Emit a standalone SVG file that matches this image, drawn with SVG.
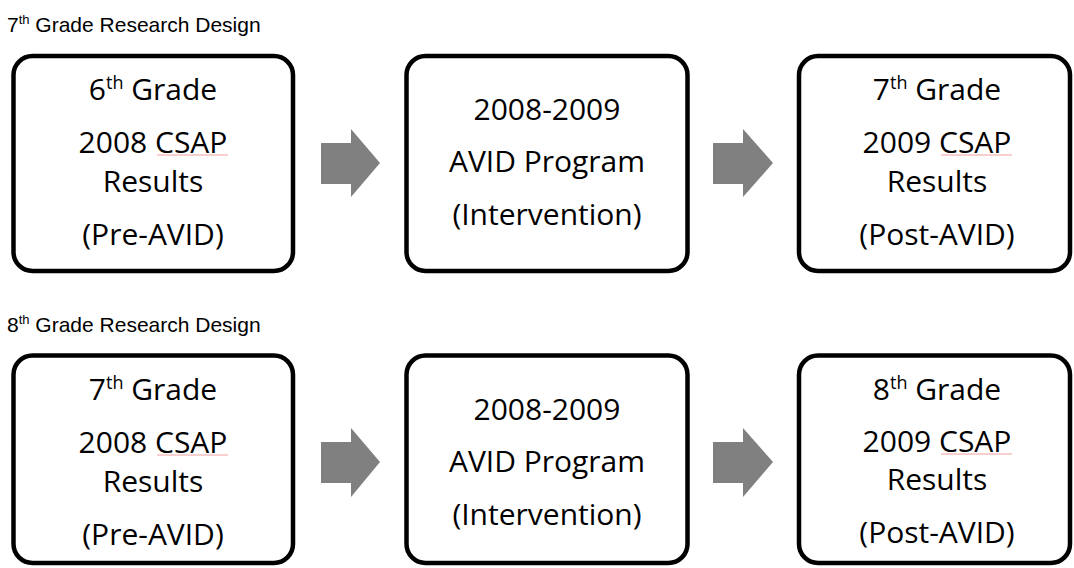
<svg xmlns="http://www.w3.org/2000/svg" width="1074" height="568" viewBox="0 0 1074 568">
<style>
.title{font-family:"Liberation Sans",Arial,sans-serif;font-size:21px;fill:#000}
.tsup{font-size:13px}
.box{fill:#fff;stroke:#000;stroke-width:4.5}
.t{font-family:"Open Sans","Noto Sans",sans-serif;font-size:30px;fill:#000;text-anchor:middle}
.sup{font-size:18px}
.arrow{fill:#808080}
.sq{stroke:#f0a0a0;stroke-width:1}
</style>
<rect width="1074" height="568" fill="#fff"/>
<text class="title" x="7" y="32">7<tspan class="tsup" dy="-8">th</tspan><tspan dy="8"> Grade Research Design</tspan></text>
<text class="title" x="7" y="332">8<tspan class="tsup" dy="-8">th</tspan><tspan dy="8"> Grade Research Design</tspan></text>

<g id="n1">
<rect class="box" x="13.5" y="56" width="279.5" height="215" rx="19"/>
<text class="t" x="153" y="100">6<tspan class="sup" dy="-11">th</tspan><tspan dy="11"> Grade</tspan></text>
<text class="t" x="153" y="153">2008 CSAP</text>
<line class="sq" x1="157" y1="155" x2="228" y2="155"/>
<text class="t" x="153" y="192">Results</text>
<text class="t" x="153" y="245">(Pre-AVID)</text>
</g>
<g id="n2">
<rect class="box" x="406.5" y="56" width="281" height="215" rx="19"/>
<text class="t" x="547" y="120">2008-2009</text>
<text class="t" x="547" y="172">AVID Program</text>
<text class="t" x="547" y="225">(Intervention)</text>
</g>
<g id="n3">
<rect class="box" x="799" y="56" width="271" height="215" rx="19"/>
<text class="t" x="937" y="100">7<tspan class="sup" dy="-11">th</tspan><tspan dy="11"> Grade</tspan></text>
<text class="t" x="937" y="153">2009 CSAP</text>
<line class="sq" x1="941" y1="155" x2="1012" y2="155"/>
<text class="t" x="937" y="192">Results</text>
<text class="t" x="937" y="245">(Post-AVID)</text>
</g>

<g id="n4">
<rect class="box" x="13.5" y="355.5" width="279.5" height="207.5" rx="19"/>
<text class="t" x="153" y="400">7<tspan class="sup" dy="-11">th</tspan><tspan dy="11"> Grade</tspan></text>
<text class="t" x="153" y="453">2008 CSAP</text>
<line class="sq" x1="157" y1="455" x2="228" y2="455"/>
<text class="t" x="153" y="492">Results</text>
<text class="t" x="153" y="545">(Pre-AVID)</text>
</g>
<g id="n5">
<rect class="box" x="406.5" y="355.5" width="281" height="207.5" rx="19"/>
<text class="t" x="547" y="420">2008-2009</text>
<text class="t" x="547" y="472">AVID Program</text>
<text class="t" x="547" y="525">(Intervention)</text>
</g>
<g id="n6">
<rect class="box" x="799" y="355.5" width="271" height="207.5" rx="19"/>
<text class="t" x="937" y="400">8<tspan class="sup" dy="-11">th</tspan><tspan dy="11"> Grade</tspan></text>
<text class="t" x="937" y="452">2009 CSAP</text>
<line class="sq" x1="941" y1="454" x2="1012" y2="454"/>
<text class="t" x="937" y="490">Results</text>
<text class="t" x="937" y="543">(Post-AVID)</text>
</g>

<g id="connectors">
<polygon class="arrow" points="321,143 351,143 351,129 380,163 351,197 351,184 321,184"/>
<polygon class="arrow" points="713,143 743,143 743,129 773,163 743,197 743,184 713,184"/>
<polygon class="arrow" points="321,442 351,442 351,428 380,462 351,497 351,483 321,483"/>
<polygon class="arrow" points="713,442 743,442 743,428 773,462 743,497 743,483 713,483"/>
</g>
</svg>
